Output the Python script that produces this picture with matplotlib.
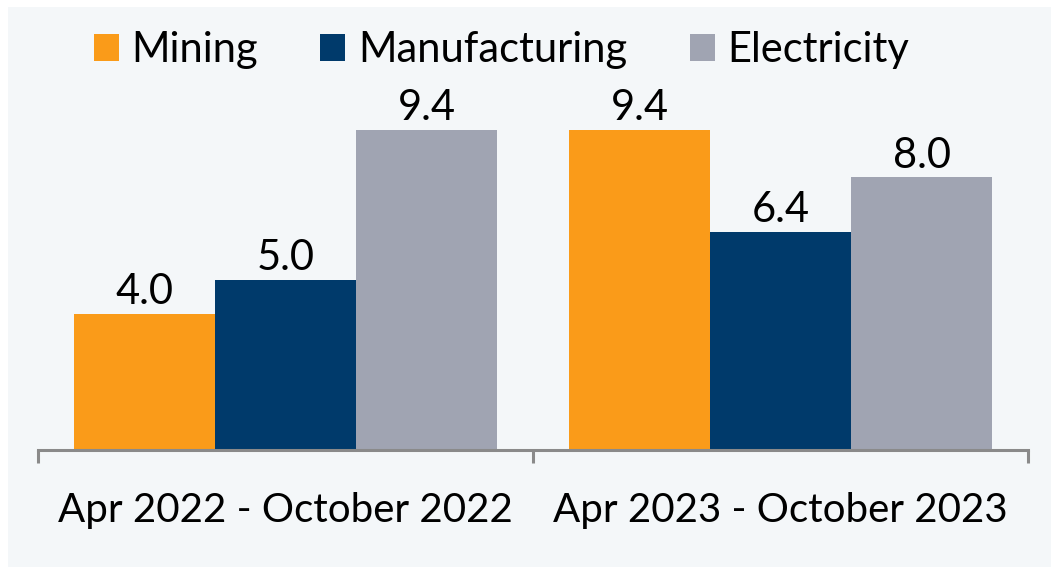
import matplotlib
matplotlib.use('Agg')
import matplotlib.pyplot as plt
from matplotlib.patches import Patch, Rectangle
import numpy as np

plt.rcParams['font.family'] = ['Lato', 'DejaVu Sans']

# 数据
periods = ['Apr 2022 - October 2022', 'Apr 2023 - October 2023']
series = ['Mining', 'Manufacturing', 'Electricity']
mining = [4.0, 9.4]
manufacturing = [5.0, 6.4]
electricity = [9.4, 8.0]
colors = ['#FA9B19', '#003A6B', '#A0A4B2']

W, H = 1051, 567
fig = plt.figure(figsize=(W / 100, H / 100), dpi=100)
fig.patch.set_facecolor('white')
# 浅色背景（左上留白）
fig.patches.append(Rectangle((8 / W, 0), 1, 1 - 7 / H, transform=fig.transFigure,
                             facecolor='#F4F7F9', edgecolor='none', zorder=-10))

ax = fig.add_axes([38 / W, (H - 450) / H, (1028 - 38) / W, (450 - 41) / H])
ax.set_facecolor('none')

x = np.arange(len(periods))
bw = 0.285
fs = 30
for i, (vals, name) in enumerate(zip([mining, manufacturing, electricity], series)):
    bars = ax.bar(x + (i - 1) * bw, vals, bw, color=colors[i], label=name, zorder=2)
    for b, v in zip(bars, vals):
        ax.text(b.get_x() + b.get_width() / 2, v + 0.07, f'{v:.1f}',
                ha='center', va='bottom', fontsize=fs, color='black')

ax.set_xlim(-0.5, 1.5)
ax.set_ylim(0, 12)
for s in ['top', 'right', 'left']:
    ax.spines[s].set_visible(False)
ax.spines['bottom'].set_color('#8A8A8A')
ax.spines['bottom'].set_linewidth(2.2)
ax.set_yticks([])
ax.set_xticks(x)
ax.set_xticklabels(periods, fontsize=29)
ax.tick_params(axis='x', which='major', length=0, pad=30)
ax.set_xticks([-0.5, 0.5, 1.5], minor=True)
ax.tick_params(axis='x', which='minor', length=9, width=2.2, color='#8A8A8A', direction='out')

handles = [Patch(facecolor=c, edgecolor='none') for c in colors]
ax.legend(handles, series, loc='upper center', bbox_to_anchor=(0.468, 1.065), ncol=3,
          frameon=False, fontsize=fs, handlelength=0.6, handleheight=0.6,
          handletextpad=0.3, columnspacing=1.5, borderaxespad=0)

fig.savefig('out.png', dpi=100, facecolor=fig.get_facecolor())
